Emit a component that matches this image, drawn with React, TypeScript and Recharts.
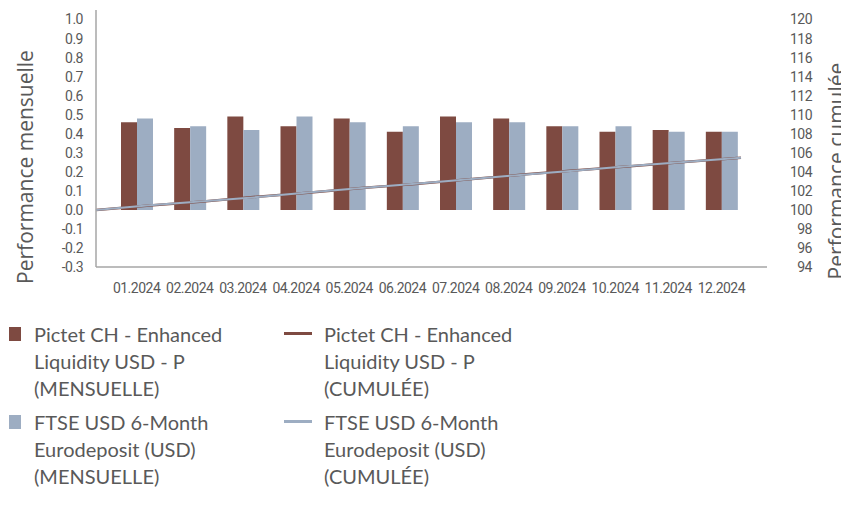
import React from "react";
import {
  ComposedChart,
  Bar,
  Line,
  XAxis,
  YAxis,
  Legend,
} from "recharts";

const months = [
  "01.2024", "02.2024", "03.2024", "04.2024", "05.2024", "06.2024",
  "07.2024", "08.2024", "09.2024", "10.2024", "11.2024", "12.2024",
];
const fundMonthly = [0.46, 0.43, 0.49, 0.44, 0.48, 0.41, 0.49, 0.48, 0.44, 0.41, 0.42, 0.41];
const indexMonthly = [0.48, 0.44, 0.42, 0.49, 0.46, 0.44, 0.46, 0.46, 0.44, 0.44, 0.41, 0.41];

// cumulative series start at 100 before the first month
const cumulSteps = [0, 1, 2, 3, 4, 5, 6, 7, 8, 9, 10, 11, 12];
const fundCumul = [100, 100.46, 100.89, 101.38, 101.83, 102.32, 102.74, 103.24, 103.74, 104.19, 104.62, 105.06, 105.49];
const indexCumul = [100, 100.48, 100.92, 101.35, 101.85, 102.32, 102.77, 103.24, 103.72, 104.17, 104.63, 105.06, 105.49];

const leftTicks = [-0.3, -0.2, -0.1, 0, 0.1, 0.2, 0.3, 0.4, 0.5, 0.6, 0.7, 0.8, 0.9, 1.0];
const rightTicks = [94, 96, 98, 100, 102, 104, 106, 108, 110, 112, 114, 116, 118, 120];

const fundName = ["Pictet CH - Enhanced", "Liquidity USD - P"];
const indexName = ["FTSE USD 6-Month", "Eurodeposit (USD)"];
const monthlyTag = "(MENSUELLE)";
const cumulTag = "(CUMULÉE)";

const RED = "#7E4A41";
const BLUE = "#9DADC2";
const TEXT = "#595959";
const AXIS = "#A6A6A6";
const TICK_FONT = "Roboto, sans-serif";
const TITLE_FONT = "'Open Sans', sans-serif";
const LEGEND_FONT = "Lato, 'Open Sans', sans-serif";

const tickStyle = {
  fill: TEXT,
  fontSize: 14,
  fontFamily: TICK_FONT,
  letterSpacing: -0.5,
};

const barData = months.map((m, i) => ({
  month: m,
  fund: fundMonthly[i],
  index: indexMonthly[i],
}));
const fundLine = cumulSteps.map((t, i) => ({ t, v: fundCumul[i] }));
const indexLine = cumulSteps.map((t, i) => ({ t, v: indexCumul[i] }));

const RightTick = (props: any) => {
  const { x, y, payload } = props;
  return (
    <text x={x + 45} y={y} dy="0.355em" textAnchor="end" {...tickStyle}>
      {payload.value}
    </text>
  );
};

// rotated title; (bx, cy) = baseline x and vertical centre, relative to the axis box
const axisTitle = (text: string, bx: number, cy: number) => (props: any) => {
  const { viewBox } = props;
  const x = viewBox.x + bx;
  const y = viewBox.y + cy;
  return (
    <text
      x={x}
      y={y}
      transform={`rotate(-90 ${x} ${y})`}
      textAnchor="middle"
      fill={TEXT}
      fontSize={21}
      fontFamily={TITLE_FONT}
    >
      {text}
    </text>
  );
};

const legendItems = [
  { lines: [...fundName, monthlyTag], color: RED, kind: "box", left: 0, top: 0 },
  { lines: [...indexName, monthlyTag], color: BLUE, kind: "box", left: 0, top: 88 },
  { lines: [...fundName, cumulTag], color: RED, kind: "line", left: 276, top: 0 },
  { lines: [...indexName, cumulTag], color: BLUE, kind: "line", left: 276, top: 88 },
];

const ChartLegend = () => (
  <div style={{ position: "relative", width: 841, height: 201, fontFamily: LEGEND_FONT }}>
    {legendItems.map((item, i) => (
      <div key={i} style={{ position: "absolute", left: item.left, top: 24 + item.top }}>
        {item.kind === "box" ? (
          <div
            style={{
              position: "absolute",
              left: 1,
              top: 6,
              width: 12,
              height: 14,
              background: item.color,
            }}
          />
        ) : (
          <div
            style={{
              position: "absolute",
              left: 0,
              top: 11,
              width: 28,
              height: 3,
              background: item.color,
            }}
          />
        )}
        <div
          style={{
            position: "absolute",
            left: item.kind === "box" ? 26 : 40,
            top: 0,
            whiteSpace: "nowrap",
            fontSize: 20,
            lineHeight: "27px",
            color: TEXT,
          }}
        >
          {item.lines.map((l, j) => (
            <div key={j}>{l}</div>
          ))}
        </div>
      </div>
    ))}
  </div>
);

export default function App() {
  return (
    <ComposedChart
      width={841}
      height={490}
      data={barData}
      margin={{ top: 2, right: 0, bottom: 0, left: 0 }}
      barCategoryGap="20%"
      barGap={0}
    >
      <XAxis
        xAxisId="cat"
        dataKey="month"
        height={30}
        padding={{ left: 14, right: 19 }}
        tickLine={false}
        tickSize={0}
        tickMargin={16}
        interval={0}
        axisLine={{ stroke: AXIS, strokeWidth: 1.5 }}
        tick={tickStyle}
      />
      <XAxis
        xAxisId="line"
        dataKey="t"
        type="number"
        domain={[0, 12]}
        padding={{ left: 0, right: 26 }}
        hide
      />
      <YAxis
        yAxisId="left"
        width={88}
        domain={[-0.3, 1.05]}
        ticks={leftTicks}
        interval={0}
        tickLine={false}
        tickSize={0}
        tickMargin={13}
        tickFormatter={(v: number) => v.toFixed(1)}
        axisLine={{ stroke: AXIS, strokeWidth: 1.5 }}
        tick={tickStyle}
        label={{ content: axisTitle("Performance mensuelle", 25, 157) }}
      />
      <YAxis
        yAxisId="right"
        orientation="right"
        width={82}
        domain={[94, 121]}
        ticks={rightTicks}
        interval={0}
        tickLine={false}
        tickSize={0}
        tickMargin={0}
        axisLine={false}
        tick={<RightTick />}
        label={{ content: axisTitle("Performance cumulée", 77, 161) }}
      />
      <Bar
        xAxisId="cat"
        yAxisId="left"
        dataKey="fund"
        fill={RED}
        barSize={16}
        isAnimationActive={false}
      />
      <Bar
        xAxisId="cat"
        yAxisId="left"
        dataKey="index"
        fill={BLUE}
        barSize={16}
        isAnimationActive={false}
      />
      <Line
        xAxisId="line"
        yAxisId="right"
        data={fundLine}
        dataKey="v"
        stroke={RED}
        strokeWidth={2.5}
        dot={false}
        isAnimationActive={false}
      />
      <Line
        xAxisId="line"
        yAxisId="right"
        data={indexLine}
        dataKey="v"
        stroke={BLUE}
        strokeWidth={2}
        dot={false}
        isAnimationActive={false}
      />
      <Legend
        verticalAlign="bottom"
        wrapperStyle={{ left: 0, top: 289, width: 841 }}
        content={() => <ChartLegend />}
      />
    </ComposedChart>
  );
}
